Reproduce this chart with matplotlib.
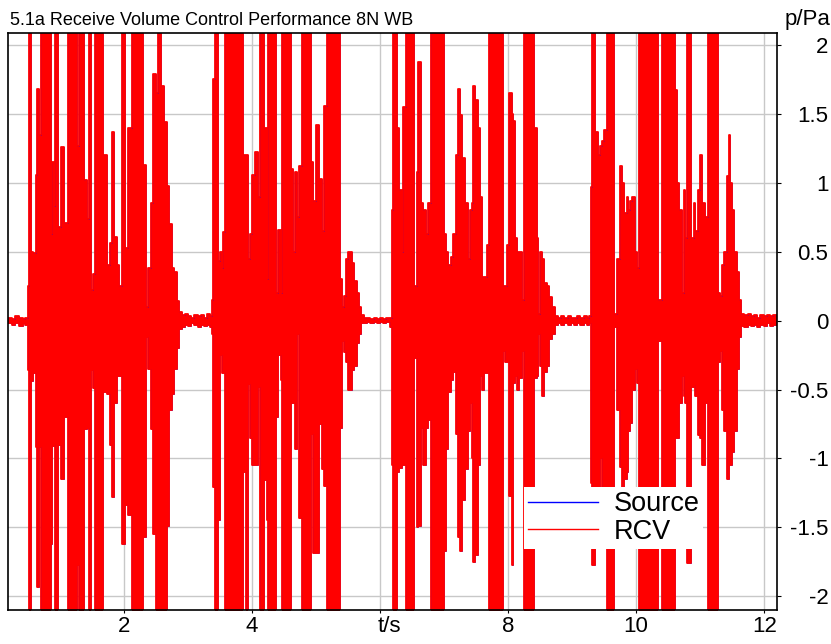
import matplotlib
matplotlib.use("Agg")
import matplotlib.pyplot as plt
import numpy as np

plt.rcParams["font.family"] = ["Liberation Sans", "DejaVu Sans"]
plt.rcParams["axes.unicode_minus"] = False

title = "5.1a Receive Volume Control Performance 8N WB"

# envelope of the recording: interval start (s), peak up, peak down (Pa)
# 2.2 means the trace runs off the plot
b1_t = [0.495, 0.516, 0.547, 0.583, 0.620, 0.646, 0.672, 0.703, 0.859, 0.880,
        0.911, 0.922, 0.974, 1.016, 1.068, 1.120, 1.260, 1.297, 1.375, 1.417,
        1.453, 1.484, 1.521, 1.547, 1.677, 1.729, 1.781, 1.818, 1.849, 1.885,
        1.922, 1.974, 2.016, 2.068, 2.120, 2.302, 2.339, 2.380, 2.422, 2.458,
        2.495, 2.526, 2.578, 2.630, 2.667, 2.703, 2.745, 2.786, 2.823]
b1_up = [0.25, 2.2, 0.5, 0.49, 1.06, 1.68, 1.35, 2.2, 0.63, 1.15,
         0.83, 2.2, 0.68, 1.26, 0.71, 2.2, 1.27, 2.2, 1.02, 0.74,
         2.2, 0.22, 0.34, 2.2, 1.2, 0.4, 0.56, 1.37, 0.61, 0.4,
         0.25, 2.2, 0.53, 1.4, 2.2, 1.13, 0.1, 0.38, 0.85, 1.79,
         1.65, 2.2, 1.7, 1.44, 0.98, 0.7, 0.38, 0.35, 0.14]
b1_lo = [-0.36, -2.2, -0.44, -0.38, -0.92, -1.93, -0.92, -2.2, -1.62, -0.91,
         -0.9, -2.2, -0.9, -1.15, -0.7, -2.2, -1.77, -2.2, -0.79, -0.78,
         -2.2, -0.36, -0.49, -2.2, -0.52, -0.53, -0.9, -1.28, -0.6, -0.4,
         -0.4, -1.62, -1.34, -1.41, -2.2, -1.57, -0.12, -0.35, -0.79, -1.55,
         -2.2, -2.2, -2.2, -2.2, -1.49, -0.65, -0.53, -0.35, -0.2]

b2_t = [3.369, 3.395, 3.422, 3.463, 3.500, 3.526, 3.552, 3.578, 3.864, 3.901,
        3.932, 3.969, 4.005, 4.047, 4.088, 4.125, 4.193, 4.229, 4.255, 4.375,
        4.411, 4.448, 4.474, 4.609, 4.645, 4.672, 4.708, 4.734, 4.776, 4.922,
        4.958, 4.995, 5.047, 5.088, 5.130, 5.167, 5.375, 5.411, 5.442, 5.464,
        5.495, 5.516, 5.557, 5.599, 5.635, 5.672]
b2_up = [0.15, 1.75, 2.2, 0.43, 0.5, 0.38, 0.64, 2.2, 1.2, 1.2,
         0.45, 0.63, 1.06, 1.22, 0.9, 2.2, 1.4, 0.3, 2.2, 0.2,
         0.66, 0.2, 2.2, 1.1, 0.5, 1.08, 0.75, 1.12, 2.2, 1.15,
         0.87, 1.42, 1.03, 0.65, 1.56, 2.2, 0.3, 0.1, 0.18, 0.45,
         0.5, 0.5, 0.42, 0.29, 0.2, 0.1]
b2_lo = [-0.1, -1.21, -2.2, -1.45, -0.25, -0.38, -0.38, -2.2, -1.1, -2.2,
         -0.46, -0.85, -1.05, -1.05, -0.48, -2.2, -1.16, -1.45, -2.2, -0.7,
         -0.25, -0.43, -2.2, -0.6, -0.6, -0.93, -0.1, -1.43, -2.2, -0.82,
         -1.69, -1.69, -0.75, -1.08, -1.2, -2.2, -0.78, -0.15, -0.23, -0.3,
         -0.5, -0.5, -0.36, -0.33, -0.16, -0.1]

b3_t = [6.182, 6.208, 6.260, 6.297, 6.339, 6.365, 6.401, 6.536, 6.573, 6.599,
        6.641, 6.677, 6.714, 6.755, 6.792, 7.000, 7.031, 7.068, 7.109, 7.146,
        7.182, 7.214, 7.250, 7.286, 7.328, 7.370, 7.406, 7.432, 7.458, 7.484,
        7.526, 7.562, 7.589, 7.630, 7.667, 7.703, 7.917, 7.953, 7.990, 8.021,
        8.057, 8.083, 8.109, 8.135, 8.172, 8.214, 8.250, 8.406, 8.448, 8.474,
        8.500, 8.526, 8.562, 8.604, 8.641, 8.682]
b3_up = [0.8, 2.2, 1.4, 0.95, 0.5, 1.55, 2.2, 0.25, 1.08, 1.88,
         0.85, 0.8, 0.63, 0.85, 2.2, 0.63, 0.5, 0.4, 0.46, 0.63,
         1.2, 1.68, 1.49, 1.18, 0.85, 0.45, 0.8, 0.85, 1.7, 1.6,
         1.4, 0.9, 0.32, 0.32, 0.55, 2.2, 0.25, 0.25, 0.55, 1.65,
         1.5, 1.45, 0.6, 0.5, 0.5, 0.15, 2.2, 1.4, 0.6, 0.05,
         0.5, 0.45, 0.27, 0.25, 0.17, 0.1]
b3_lo = [-1.05, -2.2, -1.1, -1.07, -1.05, -1.05, -2.2, -0.27, -1.5, -1.49,
         -0.78, -1.05, -0.78, -0.72, -2.2, -1.67, -0.93, -0.52, -0.43, -0.37,
         -0.82, -1.57, -1.67, -1.3, -1.08, -0.8, -0.6, -1.0, -1.75, -1.7,
         -1.05, -0.4, -0.5, -0.38, -0.38, -2.2, -0.22, -0.3, -0.3, -1.27,
         -1.77, -0.45, -0.4, -0.5, -0.42, -0.22, -2.2, -0.42, -0.4, -0.1,
         -0.33, -0.55, -0.37, -0.33, -0.13, -0.1]

b4_t = [9.297, 9.318, 9.359, 9.401, 9.438, 9.474, 9.505, 9.542, 9.656, 9.698,
        9.750, 9.786, 9.818, 9.854, 9.880, 9.906, 9.943, 9.984, 10.010, 10.047,
        10.349, 10.411, 10.609, 10.635, 10.672, 10.714, 10.740, 10.766, 10.792, 10.859,
        10.896, 10.922, 10.964, 11.000, 11.036, 11.078, 11.120, 11.276, 11.302, 11.338,
        11.380, 11.417, 11.443, 11.469, 11.495, 11.531, 11.573, 11.599]
b4_up = [0.97, 2.2, 1.37, 1.2, 1.27, 1.3, 1.38, 2.2, 0.05, 0.45,
         1.12, 1.0, 0.78, 0.9, 0.8, 0.87, 0.9, 0.5, 0.38, 2.2,
         0.15, 2.2, 1.67, 1.0, 0.8, 0.2, 0.95, 0.6, 2.2, 0.6,
         0.85, 0.65, 0.95, 1.2, 0.85, 0.75, 2.2, 0.2, 0.18, 0.4,
         0.5, 1.05, 1.35, 1.0, 0.8, 0.5, 0.35, 0.15]
b4_lo = [-1.18, -1.77, -1.25, -1.25, -1.0, -1.25, -1.25, -2.2, -0.05, -0.65,
         -1.06, -1.25, -1.15, -1.1, -0.8, -0.74, -0.5, -0.35, -0.45, -2.2,
         -0.15, -2.2, -0.85, -0.85, -0.6, -0.4, -0.55, -0.6, -1.76, -0.48,
         -0.47, -0.55, -0.83, -0.85, -1.05, -0.6, -2.2, -0.3, -0.22, -0.65,
         -0.8, -1.15, -1.05, -1.05, -0.95, -0.8, -0.35, -0.12]

# background noise between the bursts
noise_t = [0.19, 0.25, 0.30, 0.36, 0.42, 0.46,
           2.859, 2.90, 2.95, 3.00, 3.05, 3.10, 3.15, 3.20, 3.25, 3.30, 3.34,
           5.703, 5.75, 5.80, 5.85, 5.90, 5.95, 6.00, 6.05, 6.10, 6.15,
           8.734, 8.78, 8.83, 8.88, 8.93, 8.98, 9.03, 9.08, 9.13, 9.18, 9.23, 9.27,
           11.641, 11.69, 11.74, 11.79, 11.84, 11.89, 11.94, 11.99, 12.04, 12.09, 12.14, 12.2]
noise_up = [0.02, 0.01, 0.03, 0.02, 0.01, 0.02,
            0.06, 0.04, 0.05, 0.03, 0.02, 0.04, 0.03, 0.04, 0.02, 0.05, 0.03,
            0.04, 0.02, 0.02, 0.01, 0.02, 0.01, 0.02, 0.01, 0.02, 0.02,
            0.03, 0.02, 0.03, 0.02, 0.03, 0.02, 0.02, 0.03, 0.02, 0.03, 0.02, 0.03,
            0.05, 0.04, 0.05, 0.03, 0.04, 0.02, 0.04, 0.03, 0.04, 0.03, 0.04, 0.04]
noise_lo = [-0.02, -0.03, -0.02, -0.04, -0.02, -0.03,
            -0.06, -0.05, -0.03, -0.04, -0.02, -0.03, -0.05, -0.03, -0.04, -0.03, -0.05,
            -0.02, -0.02, -0.01, -0.02, -0.01, -0.02, -0.01, -0.02, -0.01, -0.05,
            -0.03, -0.02, -0.03, -0.02, -0.03, -0.02, -0.03, -0.02, -0.03, -0.02, -0.03, -0.02,
            -0.04, -0.05, -0.03, -0.04, -0.03, -0.05, -0.03, -0.04, -0.02, -0.04, -0.03, -0.03]

x_ticks = [2, 4, 6, 8, 10, 12]
x_labels = ["2", "4", "", "8", "10", "12"]
y_ticks = [-2, -1.5, -1, -0.5, 0, 0.5, 1, 1.5, 2]
y_labels = ["-2", "-1.5", "-1", "-0.5", "0", "0.5", "1", "1.5", "2"]


def main() -> None:
    t = np.concatenate([noise_t, b1_t, b2_t, b3_t, b4_t])
    up = np.concatenate([noise_up, b1_up, b2_up, b3_up, b4_up])
    lo = np.concatenate([noise_lo, b1_lo, b2_lo, b3_lo, b4_lo])
    order = np.argsort(t)
    t, up, lo = t[order], up[order], lo[order]

    fig = plt.figure(figsize=(8.31, 6.44), dpi=100)
    ax = fig.add_axes([8 / 831, 34 / 644, 769 / 831, 577 / 644])
    ax.set_axisbelow(True)

    # source trace sits under the received one
    ax.step(t, up, where="post", color="blue", lw=0.5, label="Source")
    ax.step(t, lo, where="post", color="blue", lw=0.5)
    ax.fill_between(t, lo, up, step="post", color="red", lw=0)
    ax.step(t, up, where="post", color="red", lw=1.3, label="RCV")
    ax.step(t, lo, where="post", color="red", lw=1.3)

    ax.set_xlim(0.19, 12.2)
    ax.set_ylim(-2.1, 2.087)
    ax.set_xticks(x_ticks)
    ax.set_xticklabels(x_labels)
    ax.yaxis.tick_right()
    ax.set_yticks(y_ticks)
    ax.set_yticklabels(y_labels)
    for lab in ax.get_yticklabels():
        lab.set_horizontalalignment("right")
    ax.tick_params(axis="y", direction="out", length=3, pad=34, labelsize=16)
    ax.tick_params(axis="x", direction="out", length=2.5, pad=2, labelsize=16)
    ax.grid(True, color="#c8c8c8", lw=1.0)
    for sp in ax.spines.values():
        sp.set_linewidth(1.2)

    ax.annotate("t/s", xy=(6, 0), xycoords=("data", "axes fraction"),
                xytext=(-1.5, -4.5), textcoords="offset points",
                ha="left", va="top", fontsize=16)

    fig.text(10 / 831, 1 - 25 / 644, title, fontsize=13, va="baseline")
    fig.text(830 / 831, 1 - 25 / 644, "p/Pa", fontsize=16, ha="right",
             va="baseline")

    leg = ax.legend(loc="upper left", bbox_to_anchor=(0.671, 0.213),
                    borderaxespad=0, fontsize=19.5, frameon=True,
                    fancybox=False, edgecolor="none", facecolor="white",
                    framealpha=1, handlelength=2.6, handletextpad=0.55,
                    labelspacing=0.05, borderpad=0.15)
    for line in leg.get_lines():
        line.set_linewidth(1.0)

    fig.savefig("out.png", dpi=100)


if __name__ == "__main__":
    main()
